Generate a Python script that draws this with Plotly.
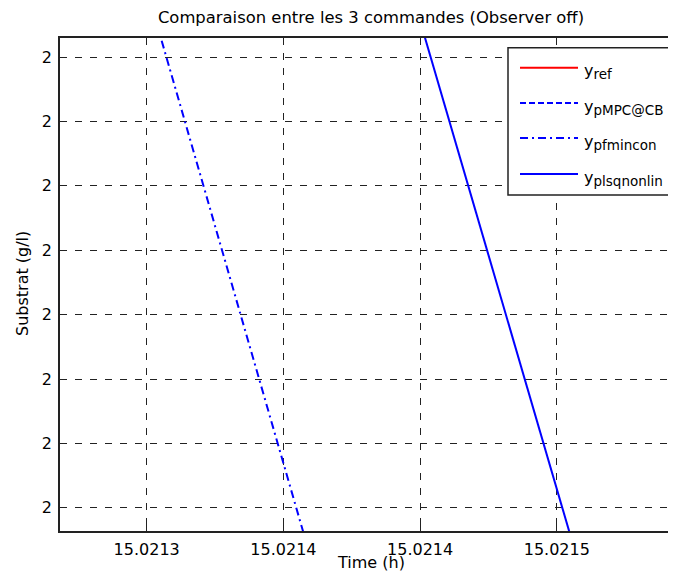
import plotly.graph_objects as go

# axis ticks, labels rounded like the original figure
time_ticks = [15.02130, 15.02135, 15.02140, 15.02145]
time_ticktext = ['15.0213', '15.0214', '15.0214', '15.0215']
subs_ticks = [1.99996, 1.999965, 1.99997, 1.999975, 1.99998, 1.999985, 1.99999, 1.999995]

# series (zoomed window, ref and pMPC lie outside it)
t_ref = [15.02120, 15.02155]
y_ref = [2.0, 2.0]
t_pmpc = [15.02120, 15.02155]
y_pmpc = [2.0000120, 2.0000095]
t_fmincon = [15.02130, 15.02136]
y_fmincon = [2.0000003, 1.9999561]
t_lsq = [15.02140, 15.02146]
y_lsq = [1.9999978, 1.9999542]

names = ['ref', 'pMPC@CB', 'pfmincon', 'plsqnonlin']
colors = ['#ff0000', '#0000ff', '#0000ff', '#0000ff']
dashes = ['solid', '6px,3px', '8px,4px,2px,4px', 'solid']

# page body has an 8px margin, keep the figure inside the window
OFF = 8
W, H = 660, 567
L, R, T, B = 52, 0, 30, 44
pw, ph = W - L - R, H - T - B

def px(x):  # window pixel -> paper
    return (x - OFF - L) / pw

def py(y):
    return (H - B - (y - OFF)) / ph

fig = go.Figure()
series = [(t_ref, y_ref), (t_pmpc, y_pmpc), (t_fmincon, y_fmincon), (t_lsq, y_lsq)]
for i, (t, y) in enumerate(series):
    fig.add_trace(go.Scatter(x=t, y=y, mode='lines', name=names[i],
                             line=dict(color=colors[i], width=2, dash=dashes[i]),
                             showlegend=False))

# legend box drawn like the matlab one
shapes = [dict(type='rect', xref='paper', yref='paper', x0=px(508), x1=px(700),
               y0=py(195), y1=py(47.7), line=dict(color='#222', width=1.5),
               fillcolor='white', layer='above')]
annots = []
leg_y = [67.7, 103, 138, 174]
for i in range(4):
    shapes.append(dict(type='line', xref='paper', yref='paper', x0=px(520), x1=px(578),
                       y0=py(leg_y[i]), y1=py(leg_y[i]),
                       line=dict(color=colors[i], width=2, dash=dashes[i]), layer='above'))
    annots.append(dict(xref='paper', yref='paper', x=px(582), y=py(leg_y[i] + 4),
                       xanchor='left', yanchor='middle', showarrow=False,
                       text='y<sub><span style="font-size:13.5px">' + names[i] + '</span></sub>',
                       font=dict(size=16, color='black')))

# axis titles placed like the matlab labels
annots.append(dict(xref='paper', yref='paper', x=px(371), y=py(574), xanchor='center',
                   yanchor='bottom', showarrow=False, text='Time (h)', font=dict(size=16)))
annots.append(dict(xref='paper', yref='paper', x=px(22), y=py(284), xanchor='center',
                   yanchor='middle', showarrow=False, text='Substrat (g/l)', textangle=-90,
                   font=dict(size=16)))

x_lo = 15.02130 - 86.7 / 136.7 * 0.00005
x_hi = 15.02130 + (668 - 146.7) / 136.7 * 0.00005

fig.update_layout(
    width=W, height=H,
    margin=dict(l=L, r=R, t=T, b=B, autoexpand=False),
    paper_bgcolor='white', plot_bgcolor='white',
    font=dict(family='DejaVu Sans', size=16, color='black'),
    title=dict(text='Comparaison entre les 3 commandes (Observer off)', x=(371 - OFF) / W, xref='container',
               y=1 - 9 / H, yanchor='middle', font=dict(size=16.4)),
    shapes=shapes, annotations=annots,
)
fig.update_xaxes(range=[x_lo, x_hi], tickvals=time_ticks, ticktext=time_ticktext,
                 showline=True, linecolor='#222', linewidth=1.5, mirror='ticks',
                 ticks='inside', ticklen=6, tickcolor='#222', ticklabelstandoff=3,
                 tickfont=dict(size=16), automargin=False,
                 showgrid=True, gridcolor='#222', gridwidth=1, griddash='7px,8px',
                 zeroline=False)
fig.update_yaxes(range=[1.9999582, 1.99999648], tickvals=subs_ticks, tickformat='.0f',
                 showline=True, linecolor='#222', linewidth=1.5, mirror=False,
                 ticks='inside', ticklen=6, tickcolor='#222', ticklabelstandoff=3,
                 tickfont=dict(size=16), automargin=False,
                 showgrid=True, gridcolor='#222', gridwidth=1, griddash='7px,8px',
                 zeroline=False)

fig.write_html("out.html")
